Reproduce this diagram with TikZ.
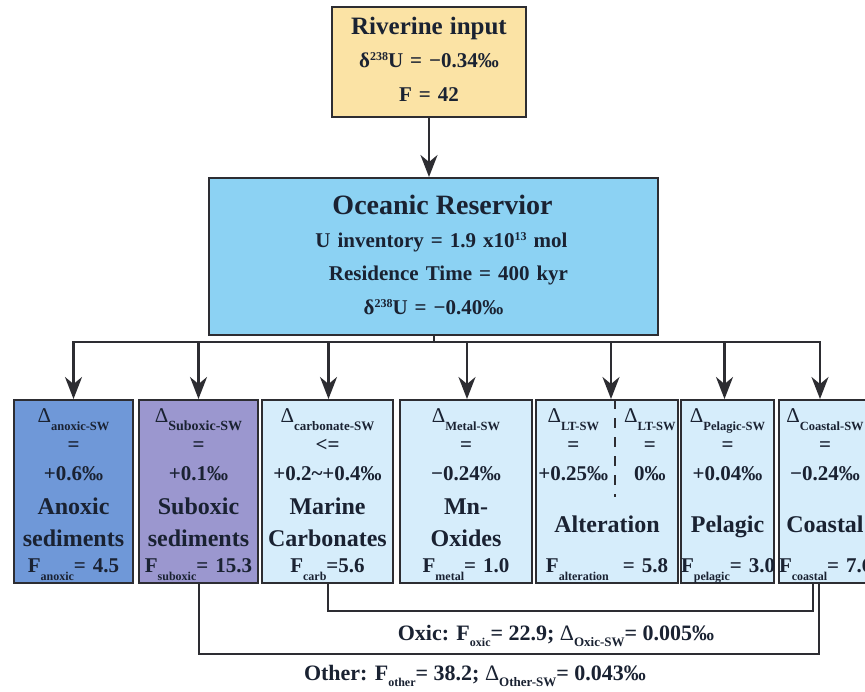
\documentclass[tikz,border=0pt]{standalone}
\usepackage{fontspec}
\setmainfont{Liberation Serif}
\usetikzlibrary{arrows.meta}
\setlength{\parindent}{0pt}
\definecolor{rivfill}{RGB}{251,227,165}
\definecolor{oceanfill}{RGB}{140,210,243}
\definecolor{anoxfill}{RGB}{111,152,216}
\definecolor{suboxfill}{RGB}{155,151,207}
\definecolor{sinkfill}{RGB}{214,237,251}
\definecolor{ink}{RGB}{26,34,50}
\definecolor{edge}{RGB}{45,45,50}
\newcommand{\Dsw}[2][12.5]{{\mdseries Δ}\raisebox{-8pt}{\fontsize{#1}{#1}\selectfont #2}}
\newcommand{\Fsub}[1]{F\raisebox{-8pt}{\fontsize{12}{12}\selectfont #1}}
\newcommand{\Flow}[1]{F\raisebox{-6pt}{\fontsize{12}{12}\selectfont #1}}
\newcommand{\Dlow}[1]{{\mdseries Δ}\raisebox{-6pt}{\fontsize{13}{13}\selectfont #1}}
\newcommand{\dU}{δ\raisebox{7pt}{\fontsize{12}{12}\selectfont 238}U}
\newcommand{\sinkname}[1]{{\fontsize{24}{24}\selectfont #1}}
\begin{document}
\begin{tikzpicture}[x=1pt,y=-1pt,
    box/.style={draw=edge,line width=2pt,text=ink,align=center,inner sep=0pt,
      font=\bfseries\fontsize{21}{29}\selectfont},
    sink/.style={box,fill=sinkfill,anchor=north west,minimum height=183pt},
    arr/.style={draw=edge,line width=2.5pt,-{Stealth[length=22pt,width=17pt,inset=7pt]}},
    link/.style={draw=edge,line width=2pt},
    sum/.style={text=ink,inner sep=0pt,anchor=base,font=\bfseries\fontsize{22}{26}\selectfont}]
  \useasboundingbox[fill=white] (0,0) rectangle (865,691);
  \clip (0,0) rectangle (865,691);

  \node[box,fill=rivfill,anchor=north,text width=194pt,minimum height=110pt] (1) at (429,6)
    {\rule{0pt}{27pt}{\fontsize{25}{25}\selectfont Riverine input}\\[4pt]
     \dU{} = −0.34‰\\[5pt]
     F = 42\rule[-16pt]{0pt}{16pt}};
  \node[box,fill=oceanfill,anchor=north,text width=449pt,minimum height=157pt] (2) at (433.5,177)
    {\rule{0pt}{36pt}\hspace*{18pt}{\fontsize{28}{28}\selectfont Oceanic Reservior}\\[4pt]
     \hspace*{16pt}U inventory = 1.9 x10\raisebox{7pt}{\fontsize{12}{12}\selectfont 13} mol\\[4pt]
     \hspace*{30pt}Residence Time = 400 kyr\\[5pt]
     \dU{} = −0.40‰\rule[-21pt]{0pt}{21pt}};

  \node[sink,fill=anoxfill,text width=119pt] (3) at (13,399)
    {\rule{0pt}{22pt}\Dsw{anoxic-SW}\\ =\\ +0.6‰\\[5pt]
     \sinkname{Anoxic}\\[3pt] \sinkname{sediments}\\[-3pt]
     \Fsub{anoxic}=~4.5\rule[-11pt]{0pt}{11pt}};
  \node[sink,fill=suboxfill,text width=119pt] (4) at (138,399)
    {\rule{0pt}{22pt}\Dsw[14]{Suboxic-SW}\\ =\\ +0.1‰\\[5pt]
     \sinkname{Suboxic}\\[3pt] \sinkname{sediments}\\[-3pt]
     \Fsub{suboxic}=~15.3\rule[-11pt]{0pt}{11pt}};
  \node[sink,text width=131pt] (5) at (261,399)
    {\rule{0pt}{22pt}\Dsw[13]{carbonate-SW}\\ <=\\ +0.2\textasciitilde+0.4‰\\[5pt]
     \sinkname{Marine}\\[3pt] \sinkname{Carbonates}\\[-3pt]
     \Fsub{carb}=5.6\rule[-11pt]{0pt}{11pt}};
  \node[sink,text width=132pt] (6) at (399,399)
    {\rule{0pt}{22pt}\Dsw{Metal-SW}\\ =\\ −0.24‰\\[5pt]
     \sinkname{Mn-}\\[3pt] \sinkname{Oxides}\\[-3pt]
     \Fsub{metal}=~1.0\rule[-11pt]{0pt}{11pt}};
  \node[sink,text width=142pt] (7) at (535,399)
    {\rule{0pt}{22pt}\begin{tabular}[t]{@{}c@{\hspace{16pt}}c@{}}
       \Dsw{LT-SW} & \Dsw{LT-SW}\\ = & =\\ +0.25‰ & 0‰\end{tabular}\\[26pt]
     \sinkname{Alteration}\\[11pt]
     \Fsub{alteration}\hspace{14pt}=~5.8\rule[-11pt]{0pt}{11pt}};
  \node[sink,text width=93pt] (8) at (680,399)
    {\rule{0pt}{22pt}\Dsw{Pelagic-SW}\\ =\\ +0.04‰\\[23pt]
     \sinkname{Pelagic}\\[11pt]
     \Fsub{pelagic}=~3.0\rule[-11pt]{0pt}{11pt}};
  \node[sink,text width=92pt] (9) at (778,399)
    {\rule{0pt}{22pt}\Dsw{Coastal-SW}\\ =\\ −0.24‰\\[23pt]
     \sinkname{Coastal}\\[11pt]
     \Fsub{coastal}=~7.6\rule[-11pt]{0pt}{11pt}};

  \node[sum] (10) at (556,640) {Oxic: \Flow{oxic}= 22.9; \Dlow{Oxic-SW}= 0.005‰};
  \node[sum] (11) at (475,680) {Other: \Flow{other}= 38.2; \Dlow{Other-SW}= 0.043‰};

  \coordinate (bus) at (433.5,342);
  \draw[arr] (1.south) -- (1.south |- 2.north);
  \draw[link] (2.south) -- (bus);
  \draw[link,line width=2.5pt,line cap=rect] (bus -| 3.north) -- ([xshift=-5pt]bus -| 9.north);
  \foreach \n/\dx in {3/0,4/0,5/1,6/1,7/4,8/-3,9/-5}
    \draw[arr] ([xshift=\dx pt]bus -| \n.north) -- ([xshift=\dx pt]\n.north);
  \draw[edge,line width=2pt,dash pattern=on 10pt off 9pt] ([xshift=8pt]7.north) -- ++(0,98);

  \draw[link] (4.south) -- ++(0,70) -| ([xshift=-6pt]9.south);
  \draw[link] (5.south) -- ++(0,27) -| ([xshift=-12pt]9.south);
\end{tikzpicture}
\end{document}
